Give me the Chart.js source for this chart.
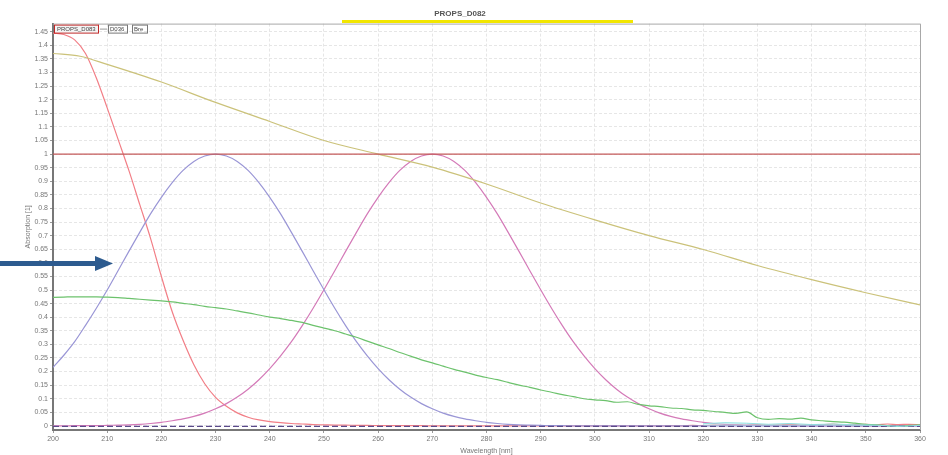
<!DOCTYPE html>
<html>
<head>
<meta charset="utf-8">
<script src="https://cdn.jsdelivr.net/npm/chart.js@4.4.1/dist/chart.umd.min.js"></script>
<style>
  html, body { margin: 0; padding: 0; background: #fff; }
  #wrap { width: 948px; height: 455px; }
</style>
</head>
<body>
<div id="wrap"><canvas id="specChart" width="948" height="455"></canvas></div>
<script>
// wavelength grid, nm
const wavelengths = [
  200,202,204,206,208,210,212,214,216,218,
  220,222,224,226,228,230,232,234,236,238,
  240,242,244,246,248,250,252,254,256,258,
  260,262,264,266,268,270,272,274,276,278,
  280,282,284,286,288,290,292,294,296,298,
  300,302,304,306,308,310,312,314,316,318,
  320,322,324,326,328,330,332,334,336,338,
  340,342,344,346,348,350,352,354,356,358,
  360
];

// red band (falls off from the left edge)
const redBand = [
  1.445,1.44,1.42,1.37,1.28,1.17,1.055,0.94,0.815,0.69,
  0.55,0.42,0.315,0.225,0.155,0.105,0.072,0.048,0.032,0.022,
  0.016,0.012,0.009,0.007,0.005,0.004,0.003,0.003,0.002,0.002,
  0.001,0.001,0.001,0.001,0.001,0,0,0,0,0,
  0,0,0,0,0,0,0,0,0,0,
  0,0,0,0,0,0.001,0,0.001,0,0.002,
  0.001,0.003,0.002,0.004,0.002,0.005,0.003,0.004,0.006,0.003,
  0.005,0.004,0.007,0.003,0.005,0.006,0.004,0.007,0.005,0.006,
  0.004
];

// blue band, peak near 230 nm
const blueBand = [
  0.215,0.26,0.31,0.37,0.433,0.50,0.571,0.642,0.712,0.78,
  0.841,0.895,0.94,0.973,0.993,1.0,0.993,0.973,0.94,0.895,
  0.841,0.78,0.712,0.642,0.571,0.501,0.433,0.369,0.31,0.258,
  0.211,0.17,0.135,0.106,0.082,0.063,0.047,0.035,0.026,0.019,
  0.013,0.009,0.006,0.004,0.003,0.002,0.001,0.001,0,0,
  0,0,0,0,0,0,0,0,0,0,
  0,0,0,0,0,0,0,0,0,0,
  0,0,0,0,0,0,0,0,0,0,
  0
];

// magenta band, peak near 270 nm
const pinkBand = [
  0,0,0.001,0.001,0.001,0.002,0.003,0.004,0.006,0.009,
  0.013,0.019,0.026,0.035,0.047,0.063,0.082,0.106,0.135,0.17,
  0.211,0.258,0.31,0.369,0.433,0.501,0.571,0.642,0.712,0.78,
  0.841,0.895,0.94,0.973,0.993,1.0,0.993,0.973,0.94,0.895,
  0.841,0.78,0.712,0.642,0.571,0.501,0.433,0.369,0.31,0.258,
  0.211,0.17,0.135,0.106,0.082,0.063,0.047,0.035,0.026,0.019,
  0.013,0.009,0.006,0.004,0.003,0.002,0.001,0.001,0,0,
  0,0,0,0,0,0,0,0,0,0,
  0
];

// measured green spectrum (noisy tail)
const greenSpec = [
  0.473,0.474,0.475,0.475,0.475,0.474,0.472,0.469,0.466,0.463,
  0.46,0.456,0.451,0.446,0.44,0.435,0.43,0.423,0.416,0.408,
  0.40,0.395,0.388,0.381,0.37,0.36,0.35,0.338,0.326,0.312,
  0.298,0.285,0.27,0.257,0.243,0.232,0.22,0.208,0.198,0.187,
  0.178,0.17,0.16,0.15,0.142,0.132,0.124,0.115,0.108,0.10,
  0.096,0.093,0.087,0.089,0.079,0.074,0.071,0.066,0.064,0.059,
  0.057,0.053,0.050,0.046,0.052,0.030,0.024,0.027,0.025,0.029,
  0.022,0.019,0.016,0.014,0.010,0.006,0.004,0.001,-0.002,0.002,
  0.004
];

// cyan trace near zero at the long wavelength end
const cyanWl   = [320,324,328,332,336,340,344,348,352,356,360];
const cyanSpec = [0.008,0.012,0.010,0.006,0.009,0.005,0.007,0.004,0.003,-0.002,0.002];

// olive reference line
const oliveWl   = [200,205,210,220,230,240,250,260,270,280,290,300,310,320,330,340,350,360];
const oliveSpec = [1.37,1.36,1.33,1.265,1.19,1.12,1.05,1.0,0.952,0.89,0.82,0.758,0.7,0.649,0.59,0.538,0.49,0.445];

const refLevel = 1.0;

const yTicks = [0,0.05,0.1,0.15,0.2,0.25,0.3,0.35,0.4,0.45,0.5,0.55,0.6,0.65,0.7,0.75,
  0.8,0.85,0.9,0.95,1,1.05,1.1,1.15,1.2,1.25,1.3,1.35,1.4,1.45];

function pts(xs, ys) {
  return xs.map((x, i) => ({ x: x, y: ys[i] }));
}

const FONT = 'Liberation Sans, Arial, sans-serif';

// frame, title highlight, tiny legend boxes and the blue arrow
const decorations = {
  id: 'decorations',
  beforeDraw(chart) {
    const c = chart.ctx;
    c.save();
    c.fillStyle = '#ffffff';
    c.fillRect(0, 0, chart.width, chart.height);
    c.fillStyle = '#f2e600';
    c.fillRect(342, 20, 291, 3);
    c.restore();
  },
  afterDraw(chart) {
    const c = chart.ctx;
    const a = chart.chartArea;
    c.save();
    c.strokeStyle = '#a8a8a8';
    c.lineWidth = 1;
    c.beginPath();
    c.moveTo(a.left, a.top + 0.5);
    c.lineTo(a.right + 0.5, a.top + 0.5);
    c.lineTo(a.right + 0.5, a.bottom);
    c.stroke();

    // legend tabs
    c.font = '6px ' + FONT;
    c.textBaseline = 'middle';
    c.fillStyle = '#f4f4f4';
    c.fillRect(a.left + 1, a.top + 1, 44, 8);
    c.strokeStyle = '#c02828';
    c.strokeRect(a.left + 1.5, a.top + 1.5, 44, 8);
    c.fillStyle = '#444';
    c.fillText('PROPS_D083', a.left + 4, a.top + 5.5);
    c.strokeStyle = '#999';
    c.beginPath();
    c.moveTo(a.left + 47, a.top + 5.5);
    c.lineTo(a.left + 54, a.top + 5.5);
    c.stroke();
    c.strokeStyle = '#777';
    c.strokeRect(a.left + 55.5, a.top + 1.5, 19, 8);
    c.strokeRect(a.left + 79.5, a.top + 1.5, 15, 8);
    c.fillText('D036', a.left + 57, a.top + 5.5);
    c.fillText('Bre', a.left + 81, a.top + 5.5);

    // arrow
    c.fillStyle = '#2d5b8f';
    c.fillRect(0, 261, 96, 5);
    c.beginPath();
    c.moveTo(95, 256);
    c.lineTo(113, 263.5);
    c.lineTo(95, 271);
    c.closePath();
    c.fill();
    c.restore();
  }
};

const lineStyle = { pointRadius: 0, borderWidth: 1.2, fill: false, cubicInterpolationMode: 'monotone' };

new Chart(document.getElementById('specChart'), {
  type: 'line',
  data: {
    datasets: [
      Object.assign({ label: 'cyan', data: pts(cyanWl, cyanSpec), borderColor: '#8fe0e0',
        fill: 'origin', backgroundColor: 'rgba(170,240,240,0.35)' }, { pointRadius: 0, borderWidth: 1 }),
      Object.assign({ label: 'baseline', data: pts([200, 360], [-0.002, -0.002]), borderColor: '#5a4a8a',
        borderDash: [6, 3] }, lineStyle),
      Object.assign({ label: 'reference', data: pts([200, 360], [refLevel, refLevel]), borderColor: '#c45a5a' }, lineStyle),
      Object.assign({ label: 'olive', data: pts(oliveWl, oliveSpec), borderColor: '#cbc27a' }, lineStyle),
      Object.assign({ label: 'green', data: pts(wavelengths, greenSpec), borderColor: '#6cc26c' }, lineStyle),
      Object.assign({ label: 'blue', data: pts(wavelengths, blueBand), borderColor: '#9a96d6' }, lineStyle),
      Object.assign({ label: 'pink', data: pts(wavelengths, pinkBand), borderColor: '#d47ab8' }, lineStyle),
      Object.assign({ label: 'red', data: pts(wavelengths, redBand), borderColor: '#f27e86' }, lineStyle)
    ]
  },
  options: {
    responsive: false,
    animation: false,
    layout: { padding: { left: 0, right: 28, top: 0, bottom: 0 } },
    plugins: {
      legend: { display: false },
      tooltip: { enabled: false },
      title: {
        display: true,
        text: 'PROPS_D082',
        color: '#555',
        font: { family: FONT, size: 8 },
        padding: { top: 9, bottom: 5 }
      }
    },
    scales: {
      x: {
        type: 'linear',
        min: 200,
        max: 360,
        afterFit(scale) { scale.height = 25; },
        ticks: { stepSize: 10, color: '#777', font: { family: FONT, size: 7 }, padding: 2, maxRotation: 0 },
        grid: { color: '#e6e6e6', tickLength: 3, tickColor: '#999' },
        border: { color: '#777', width: 2, dash: [3, 2] },
        title: { display: true, text: 'Wavelength [nm]', color: '#777',
          font: { family: FONT, size: 7 }, padding: { top: 0, bottom: 0 } }
      },
      y: {
        min: -0.015,
        max: 1.48,
        afterFit(scale) { scale.width = 53; },
        afterBuildTicks(scale) { scale.ticks = yTicks.map(v => ({ value: v })); },
        ticks: {
          color: '#777',
          font: { family: FONT, size: 7 },
          padding: 2,
          callback: v => String(+Number(v).toFixed(2))
        },
        grid: { color: '#e6e6e6', tickLength: 3, tickColor: '#999' },
        border: { color: '#777', width: 2, dash: [3, 2] },
        title: { display: true, text: 'Absorption [1]', color: '#777',
          font: { family: FONT, size: 7 }, padding: { top: 24, bottom: 0 } }
      }
    }
  },
  plugins: [decorations]
});
</script>
</body>
</html>
